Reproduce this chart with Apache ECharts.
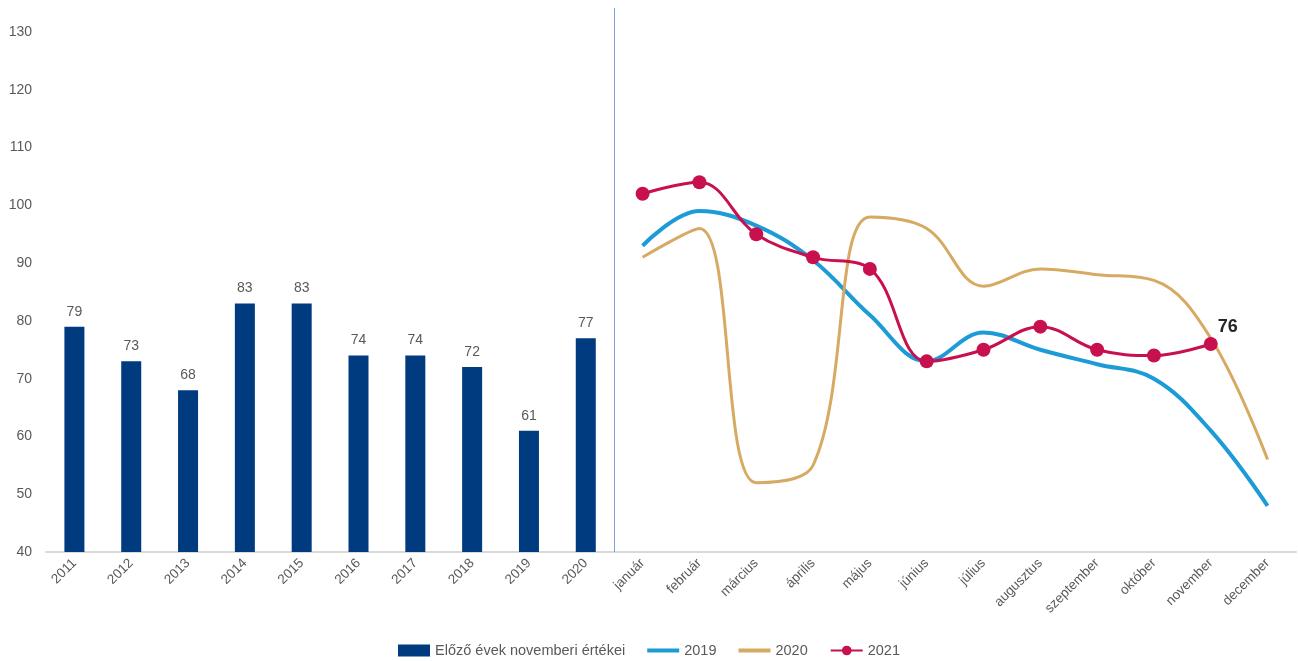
<!DOCTYPE html>
<html>
<head>
<meta charset="utf-8">
<script src="https://cdn.jsdelivr.net/npm/echarts@6/dist/echarts.min.js"></script>
<style>
  html, body { margin: 0; padding: 0; background: #fff; }
  #chart { width: 1298px; height: 661px; }
</style>
</head>
<body>
<div id="chart"></div>
<script>
// Previous years' November values (bars) followed by the monthly series (lines)
const years = ['2011', '2012', '2013', '2014', '2015', '2016', '2017', '2018', '2019', '2020'];
const months = ['január', 'február', 'március', 'április', 'május', 'június',
                'július', 'augusztus', 'szeptember', 'október', 'november', 'december'];

const novemberValues = [79, 73, 68, 83, 83, 74, 74, 72, 61, 77];
const series2019 = [93, 99, 96.5, 90.5, 81, 73, 78, 75, 72.5, 70, 61, 48];
const series2020 = [91, 96, 52, 55, 98, 96, 86, 89, 88, 87, 77, 56];
const series2021 = [102, 104, 95, 91, 89, 73, 75, 79, 75, 74, 76];

const yTicks = { min: 40, interval: 10, lastLabel: 130 };

const categories = years.concat(months);
const pad = (n) => new Array(n).fill('-');

const barData = novemberValues.concat(pad(months.length));
const line2019 = pad(years.length).concat(series2019);
const line2020 = pad(years.length).concat(series2020);
const line2021 = pad(years.length).concat(series2021);
const lastIdx2021 = years.length + series2021.length - 1;

const textColor = '#595959';
const font = 'Liberation Sans';
const flatLineIcon = 'path://M0 0H32V4H0Z';
const curveSmooth = 0.38;

const chart = echarts.init(document.getElementById('chart'), null, { renderer: 'canvas' });
chart.setOption({
  animation: false,
  textStyle: { fontFamily: font },
  grid: { left: 46, right: 2, top: 8, bottom: 109, containLabel: false },
  legend: {
    top: 638,
    left: 'center',
    itemWidth: 32,
    itemHeight: 12,
    itemGap: 22,
    textStyle: { color: textColor, fontSize: 14.5, fontFamily: font },
    data: [
      { name: 'Előző évek novemberi értékei', icon: 'rect' },
      { name: '2019', icon: flatLineIcon },
      { name: '2020', icon: flatLineIcon },
      { name: '2021' }
    ]
  },
  xAxis: [
    {
      type: 'category',
      data: categories,
      boundaryGap: true,
      axisLine: { lineStyle: { color: '#d9d9d9', width: 2 } },
      axisTick: { show: false },
      axisLabel: { rotate: 45, color: textColor, fontSize: 13.5, margin: 9, interval: 0 },
      splitLine: { show: false }
    },
    {
      // helper scale used only to place the divider between the two blocks
      type: 'value',
      min: 0,
      max: categories.length,
      show: false
    }
  ],
  yAxis: {
    type: 'value',
    min: yTicks.min,
    max: yTicks.lastLabel + 4.15,
    interval: yTicks.interval,
    axisLine: { show: false },
    axisTick: { show: false },
    splitLine: { show: false },
    axisLabel: {
      color: textColor, fontSize: 14, margin: 14,
      formatter: (v) => (v <= yTicks.lastLabel && v % yTicks.interval === 0 ? String(v) : '')
    }
  },
  series: [
    {
      name: 'Előző évek novemberi értékei',
      type: 'bar',
      data: barData,
      barWidth: 20,
      itemStyle: { color: '#003a7f' },
      label: { show: true, position: 'top', distance: 8, color: textColor, fontSize: 14 }
    },
    {
      name: '2019',
      type: 'line',
      data: line2019,
      smooth: curveSmooth,
      showSymbol: false,
      symbol: 'none',
      lineStyle: { color: '#1d9bd7', width: 4 },
      itemStyle: { color: '#1d9bd7' }
    },
    {
      name: '2020',
      type: 'line',
      data: line2020,
      smooth: curveSmooth,
      showSymbol: false,
      symbol: 'none',
      lineStyle: { color: '#d6aa62', width: 3 },
      itemStyle: { color: '#d6aa62' }
    },
    {
      name: '2021',
      type: 'line',
      data: line2021,
      smooth: curveSmooth,
      symbol: 'circle',
      symbolSize: 14,
      lineStyle: { color: '#c8104e', width: 3 },
      itemStyle: { color: '#c8104e' },
      label: {
        show: true,
        position: [14, -19],
        fontSize: 18,
        fontWeight: 'bold',
        color: '#262626',
        formatter: (p) => (p.dataIndex === lastIdx2021 ? String(p.value) : '')
      }
    },
    {
      name: 'divider',
      type: 'line',
      xAxisIndex: 1,
      data: [],
      silent: true,
      markLine: {
        silent: true,
        symbol: 'none',
        label: { show: false },
        lineStyle: { color: '#7f9fd6', width: 1, type: 'solid' },
        data: [{ xAxis: years.length }]
      }
    }
  ]
});
</script>
</body>
</html>
